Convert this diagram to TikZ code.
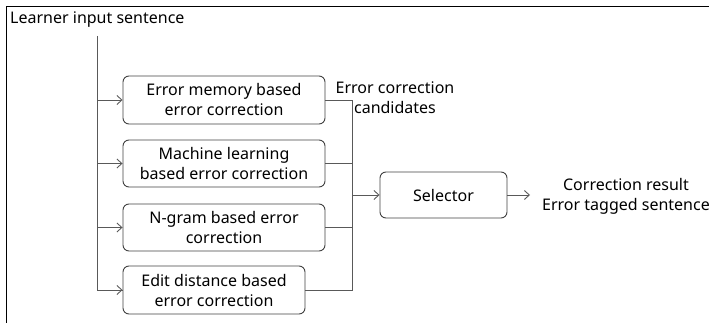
\documentclass[tikz,border=0pt]{standalone}
\usepackage{fontspec}
\setmainfont{Noto Sans}
\usetikzlibrary{arrows.meta}
\begin{document}
\begin{tikzpicture}[x=1pt,y=-1pt,
  font=\fontsize{16}{20}\selectfont,
  proc/.style={draw=black!75, line width=0.9pt, rounded corners=6pt, align=center, inner sep=0pt},
  conn/.style={draw=black!65, line width=0.9pt},
  arr/.style={conn, -{Straight Barb[length=5pt,width=9pt]}}]
\useasboundingbox (0,0) rectangle (709,323);
\draw[line width=1pt] (6,323) -- (6,7) -- (709,7);
\node[anchor=west, inner sep=0pt] (inp) at (10,20) {Learner input sentence};
\coordinate (top) at (97,36);
\coordinate (bot) at (97,290);
\node[proc, minimum width=202, minimum height=48] (b1) at (224,100) {Error memory based\\error correction};
\node[proc, minimum width=202, minimum height=47] (b2) at (224,163.5) {Machine learning\\based error correction};
\node[proc, minimum width=202, minimum height=47] (b3) at (224,227.5) {N-gram based error\\correction};
\node[proc, minimum width=182, minimum height=48] (b4) at (214,290) {Edit distance based\\error correction};
\node[proc, minimum width=127, minimum height=46] (sel) at (443.5,195) {Selector};
\node[align=center, inner sep=0pt] (cand) at (395,98) {Error correction\\candidates};
\node[align=center, inner sep=0pt] (res) at (626,196) {Correction result\\Error tagged sentence};
\draw[conn] (top) -- (bot) -- (b4.west);
\foreach \b in {b1,b2,b3} \draw[arr] (top |- \b.west) -- (\b.west);
\draw[arr] (bot) -- (b4.west);
\coordinate (mtop) at (352,100);
\coordinate (mbot) at (352,290);
\draw[conn] (b1.east) -- (mtop) -- (mbot) -- (b4.east);
\draw[conn] (b2.east) -- (mtop |- b2.east);
\draw[conn] (b3.east) -- (mtop |- b3.east);
\draw[arr] (mtop |- sel.west) -- (sel.west);
\coordinate (rend) at (530,195);
\draw[arr] (sel.east) -- (rend);
\end{tikzpicture}
\end{document}
